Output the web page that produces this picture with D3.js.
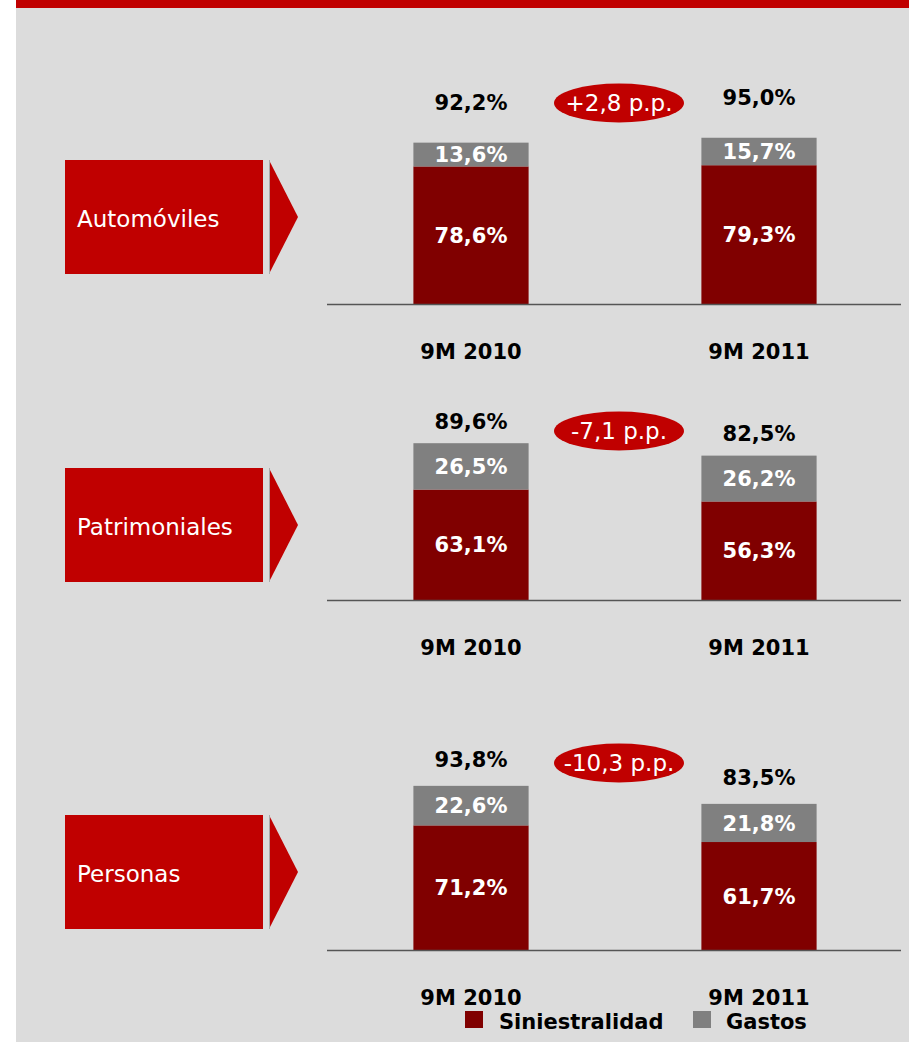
<!DOCTYPE html>
<html>
<head>
<meta charset="utf-8">
<script src="https://cdn.jsdelivr.net/npm/d3@7/dist/d3.min.js"></script>
<style>
	body { margin: 0; background: #fff; }
	svg text { font-family: "DejaVu Sans", Verdana, sans-serif; }
</style>
</head>
<body>
<div id="chart"></div>
<script>
const segments = ['Automóviles', 'Patrimoniales', 'Personas'];
const periods = ['9M 2010', '9M 2011'];
const siniestralidad = [[78.6, 79.3], [63.1, 56.3], [71.2, 61.7]];
const gastos = [[13.6, 15.7], [26.5, 26.2], [22.6, 21.8]];
const totals = [[92.2, 95.0], [89.6, 82.5], [93.8, 83.5]];
const changes = ['+2,8 p.p.', '-7,1 p.p.', '-10,3 p.p.'];
const seriesNames = ['Siniestralidad', 'Gastos'];

const colors = {
	red: '#c00000',
	dark: '#800000',
	gray: '#808080',
	bg: '#dcdcdc'
};

// vertical placement of each panel (axis line, red box, total label gap, pill)
const panels = [
	{ base: 304, boxTop: 160, gap: 40, pillY: 103 },
	{ base: 600, boxTop: 468, gap: 22, pillY: 431 },
	{ base: 950, boxTop: 815, gap: 26, pillY: 763 }
];

const width = 909;
const height = 1042;
const pct = d3.formatLocale({ decimal: ',', thousands: '.', grouping: [3], currency: ['', '€'] }).format('.1f');

const svg = d3.select('#chart').append('svg')
	.attr('width', width)
	.attr('height', height);

svg.append('rect')
	.attr('x', 16).attr('y', 0)
	.attr('width', width - 16).attr('height', height)
	.attr('fill', colors.bg);

svg.append('rect')
	.attr('x', 16).attr('y', 0)
	.attr('width', width - 16).attr('height', 8)
	.attr('fill', colors.red);

const x = d3.scaleBand()
	.domain(periods)
	.range([327, 903])
	.paddingInner(0.6)
	.paddingOuter(0.3);

panels.forEach((p, i) => {
	const g = svg.append('g');

	const y = d3.scaleLinear()
		.domain([0, 100])
		.range([p.base, p.base - 175]);

	// red category box with arrow
	g.append('rect')
		.attr('x', 65).attr('y', p.boxTop)
		.attr('width', 198).attr('height', 114)
		.attr('fill', colors.red);

	g.append('path')
		.attr('d', `M269,${p.boxTop} L298,${p.boxTop + 57} L269,${p.boxTop + 114} Z`)
		.attr('fill', colors.red);

	g.append('line')
		.attr('x1', 269.5).attr('x2', 269.5)
		.attr('y1', p.boxTop).attr('y2', p.boxTop + 114)
		.attr('stroke', '#a8a8a8');

	g.append('text')
		.attr('x', 77).attr('y', p.boxTop + 67)
		.attr('fill', '#fff')
		.style('font-size', '23px')
		.text(segments[i]);

	const rows = periods.map((d, j) => ({
		period: d,
		sin: siniestralidad[i][j],
		gas: gastos[i][j],
		total: totals[i][j]
	}));

	const stack = d3.stack().keys(['sin', 'gas'])(rows);

	g.selectAll('.layer')
		.data(stack)
		.enter()
		.append('g')
			.attr('fill', d => d.key === 'sin' ? colors.dark : colors.gray)
		.selectAll('rect')
		.data(d => d)
		.enter()
		.append('rect')
			.attr('x', d => x(d.data.period))
			.attr('y', d => y(d[1]))
			.attr('width', x.bandwidth())
			.attr('height', d => y(d[0]) - y(d[1]));

	// labels inside segments
	g.selectAll('.seg')
		.data(stack)
		.enter()
		.append('g')
		.selectAll('text')
		.data(d => d.map(v => ({ v, key: d.key })))
		.enter()
		.append('text')
			.attr('x', d => x(d.v.data.period) + x.bandwidth() / 2)
			.attr('y', d => (y(d.v[0]) + y(d.v[1])) / 2)
			.attr('dy', '0.36em')
			.attr('text-anchor', 'middle')
			.attr('fill', '#fff')
			.style('font-size', '21px')
			.style('font-weight', 'bold')
			.text(d => pct(d.v.data[d.key]) + '%');

	// totals above bars
	g.selectAll('.total')
		.data(rows)
		.enter()
		.append('text')
			.attr('x', d => x(d.period) + x.bandwidth() / 2)
			.attr('y', d => y(d.sin + d.gas) - p.gap)
			.attr('dy', '0.36em')
			.attr('text-anchor', 'middle')
			.attr('fill', '#000')
			.style('font-size', '21px')
			.style('font-weight', 'bold')
			.text(d => pct(d.total) + '%');

	// axis
	const axis = g.append('g')
		.attr('transform', `translate(0, ${p.base})`)
		.call(d3.axisBottom(x).tickSize(0).tickPadding(40));

	axis.select('.domain')
		.attr('d', 'M327,0.5H901')
		.attr('stroke', '#555')
		.attr('stroke-width', 1.5);

	axis.selectAll('.tick text')
		.attr('fill', '#000')
		.style('font-family', '"DejaVu Sans", Verdana, sans-serif')
		.style('font-size', '21px')
		.style('font-weight', 'bold');

	// change pill
	g.append('ellipse')
		.attr('cx', 619).attr('cy', p.pillY)
		.attr('rx', 65).attr('ry', 19.5)
		.attr('fill', colors.red);

	g.append('text')
		.attr('x', 619).attr('y', p.pillY)
		.attr('dy', '0.36em')
		.attr('text-anchor', 'middle')
		.attr('fill', '#fff')
		.style('font-size', '23px')
		.text(changes[i]);
});

// legend
const legendX = [465, 693];
const legend = svg.append('g')
	.selectAll('g')
	.data(seriesNames)
	.enter()
	.append('g')
		.attr('transform', (d, i) => `translate(${legendX[i]}, 1011)`);

legend.append('rect')
	.attr('width', 18).attr('height', 17)
	.attr('fill', (d, i) => i === 0 ? colors.dark : colors.gray);

legend.append('text')
	.attr('x', (d, i) => i === 0 ? 34 : 33)
	.attr('y', 18)
	.attr('fill', '#000')
	.style('font-size', '21px')
	.style('font-weight', 'bold')
	.text(d => d);
</script>
</body>
</html>
